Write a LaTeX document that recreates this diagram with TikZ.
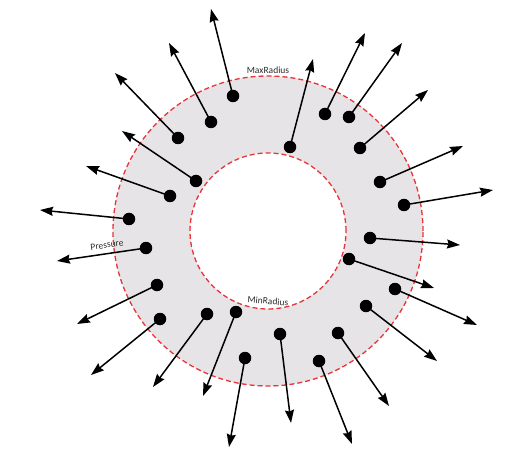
\documentclass[tikz,border=0pt]{standalone}
\usepackage{fontspec}
\setmainfont{Carlito}
\usetikzlibrary{arrows.meta}
\definecolor{ringgray}{RGB}{230,228,230}
\definecolor{ringred}{RGB}{232,52,58}
\definecolor{labelgray}{RGB}{45,45,45}
\tikzset{
  dot/.style={circle,fill=black,inner sep=0pt,minimum size=12.5pt},
  arr/.style={line width=1.5pt,-{Stealth[length=13pt,width=9pt,inset=1.5pt]}},
  ring/.style={draw=ringred,line width=1.3pt,dash pattern=on 5pt off 3pt},
  lbl/.style={font=\fontsize{9.5}{10}\selectfont,text=labelgray,inner sep=0pt}
}
\begin{document}
\begin{tikzpicture}[x=1pt,y=-1pt]
\useasboundingbox (0,0) rectangle (522,465);
\coordinate (c) at (268,231);
\fill[ringgray,even odd rule] (c) circle[radius=155pt] (c) circle[radius=78pt];
\draw[ring] (c) circle[radius=155pt];
\draw[ring] (c) circle[radius=78pt];
\node[lbl,fill=white,inner sep=1pt] (maxr) at (268,70) {MaxRadius};
\node[lbl,rotate=-5] (minr) at (268,301) {MinRadius};
% dots
\foreach \n/\dx/\dy/\tx/\ty in {
 1/233/96/211/9, 2/211/122/169/43, 3/178/138/115/73, 4/196/181/122/131,
 5/170/196/86/166, 6/129/219/40/210, 7/146/248/57/261, 8/157/285/77/324,
 9/160/319/91/375, 10/207/314/153/387, 11/236/312/203/396, 12/245/358/229/447,
 13/280/334/291/423, 14/319/361/352/444, 15/338/333/389/406, 16/366/306/437/361,
 17/395/289/477/325, 18/349/259/434/288, 19/370/238/460/245, 20/404/205/493/190,
 21/380/182/463/146, 22/360/148/428/90, 23/349/117/402/43, 24/325/114/365/33,
 25/290/147/313/59}{
  \node[dot] (d\n) at (\dx,\dy) {};
  \coordinate (t\n) at (\tx,\ty);
  \draw[arr] (d\n.center) -- (t\n);
}
\node[lbl,rotate=7] (pres) at (107,245) {Pressure};
\end{tikzpicture}
\end{document}
